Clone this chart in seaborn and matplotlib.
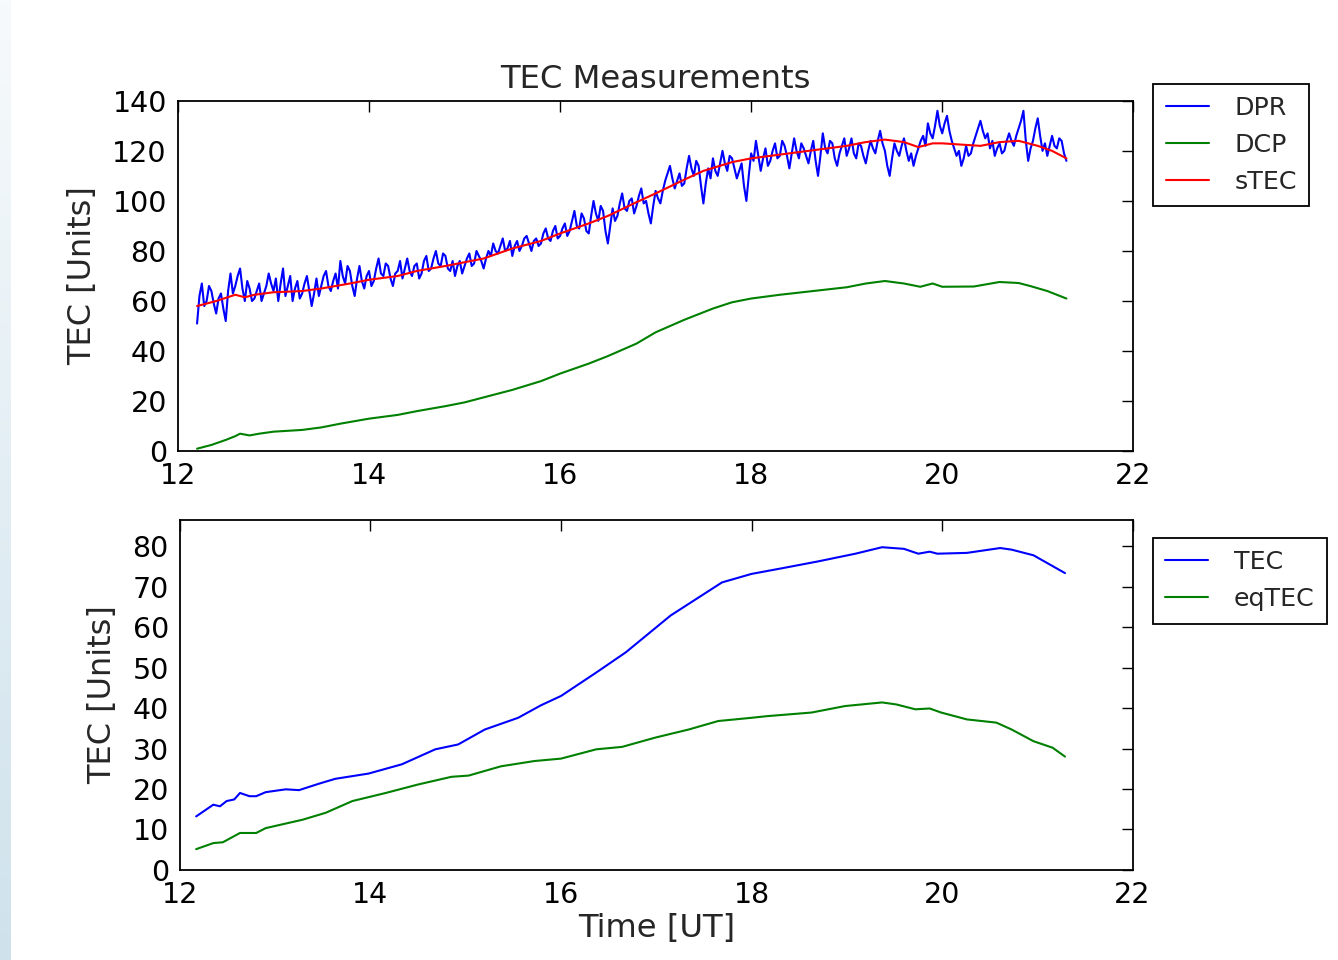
"""TEC measurements: DPR/DCP/sTEC and TEC/eqTEC against UT."""
import matplotlib

matplotlib.use("Agg")
import matplotlib.pyplot as plt
import numpy as np
import seaborn as sns

# --- top panel -------------------------------------------------------------
# DPR sampled every 0.025 h from 12.2 to 21.3 UT
dpr = [
    51, 62, 67, 58, 60, 66, 64, 59, 55, 61, 63, 57, 52, 64, 71, 63, 66, 70, 73, 65,
    60, 68, 65, 60, 61, 64, 67, 60, 63, 66, 71, 67,
    64, 69, 60, 67, 73, 62, 66, 70, 60, 65, 68, 61, 63, 67, 70, 64, 58, 63, 69, 62,
    66, 70, 72, 66, 64, 68, 71, 65, 76, 70, 67, 74, 72, 66, 62, 69, 74, 68, 65, 70,
    72, 66, 68, 73, 77, 71, 70, 75, 74, 69, 66, 71, 72, 76, 69, 73, 77, 72, 70, 74,
    75, 69, 71, 76, 78, 72, 73, 77, 80, 75, 74, 79, 78, 73, 72, 76, 70, 74, 76, 71,
    74, 77, 79, 74, 75, 80, 78, 76, 73, 77, 80, 78, 83, 80, 79, 82, 85, 80, 81, 84,
    78, 82, 84, 80, 82, 85, 86, 83, 80, 84, 85, 82, 83, 87, 89, 85, 84, 88, 90, 85,
    86, 89, 91, 86, 88, 92, 96, 90, 89, 95, 93, 88, 87, 94, 100, 95, 92, 98, 96, 88,
    83, 90, 97, 92, 94, 99, 103, 97, 96, 100, 101, 95, 98, 102, 105, 99, 100, 95, 91, 98,
    104, 101, 99, 104, 108, 111, 114, 109, 105, 108, 111, 106, 107, 113, 118, 113, 110, 116, 114, 106,
    99, 107, 113, 109, 117, 112, 110, 115, 120, 115, 112, 118, 117, 113, 109, 112, 115, 106, 100, 110,
    119, 116, 124, 118, 112, 117, 121, 114, 116, 120, 123, 117, 118, 124, 122, 118, 113, 119, 125, 120,
    117, 123, 121, 118, 115, 120, 124, 116, 110, 118, 127, 121, 119, 124, 123, 117, 114, 119, 122, 125,
    118, 121, 125, 119, 117, 123, 122, 118, 115, 120, 124, 121, 119, 124, 128, 123, 120, 114, 110, 117,
    123, 120, 118, 122, 125, 120, 116, 119, 114, 118, 121, 124, 126, 122, 131, 127, 125, 130, 136, 130,
    127, 131, 134, 128, 124, 121, 118, 120, 114, 117, 122, 118, 119, 123, 126, 129, 132, 128, 125, 127,
    121, 124, 118, 121, 123, 119, 120, 124, 127, 124, 122, 126, 129, 132, 136, 124, 116, 121, 124, 129,
    133, 126, 120, 123, 118, 122, 126, 122, 121, 125, 124, 119, 116,
]
dpr_time = np.linspace(12.2, 21.3, len(dpr))

stec_time = [12.2, 12.4, 12.6, 12.7, 12.8, 13.0, 13.3, 13.5, 13.8, 14.0, 14.3, 14.5,
             14.8, 15.0, 15.2, 15.5, 15.8, 16.0, 16.3, 16.5, 16.8, 17.0, 17.3, 17.5,
             17.8, 18.0, 18.3, 18.6, 19.0, 19.2, 19.4, 19.6, 19.75, 19.9, 20.0, 20.2,
             20.4, 20.6, 20.8, 21.0, 21.15, 21.3]
stec = [58, 60, 62.5, 61.5, 62.5, 63.5, 64, 65, 67, 68.5, 70, 72,
        74, 75.5, 77, 81, 84, 87, 91, 94, 99.5, 103, 108.5, 112,
        115.5, 117, 118.5, 120, 122, 123.5, 124.5, 123.5, 121.5, 123, 123, 122.5,
        122, 123.5, 124, 122, 120, 117]

dcp_time = [12.2, 12.35, 12.5, 12.6, 12.65, 12.75, 12.85, 13.0, 13.3, 13.5, 13.7, 14.0,
            14.3, 14.5, 14.8, 15.0, 15.3, 15.5, 15.8, 16.0, 16.3, 16.5, 16.8, 17.0,
            17.3, 17.6, 17.8, 18.0, 18.3, 18.65, 19.0, 19.2, 19.4, 19.6, 19.77, 19.9,
            20.0, 20.33, 20.6, 20.8, 20.92, 21.1, 21.3]
dcp = [1, 2.5, 4.5, 6, 7, 6.3, 7, 7.8, 8.5, 9.5, 11, 13,
       14.5, 16, 18, 19.5, 22.5, 24.5, 28, 31, 35, 38, 43, 47.5,
       52.5, 57, 59.5, 61, 62.5, 64, 65.5, 67, 68, 67, 65.7, 67,
       65.7, 65.8, 67.6, 67.2, 66, 64, 61]

# --- bottom panel ----------------------------------------------------------
tec_time = [12.17, 12.35, 12.42, 12.49, 12.57, 12.63, 12.73, 12.8, 12.9, 13.11, 13.25,
            13.46, 13.63, 13.98, 14.33, 14.68, 14.92, 15.2, 15.55, 15.79, 16.0, 16.37,
            16.68, 17.15, 17.69, 18.0, 18.32, 18.7, 19.09, 19.37, 19.6, 19.75, 19.87,
            19.95, 20.26, 20.61, 20.73, 20.96, 21.29]
tec = [13.2, 16.1, 15.7, 17, 17.4, 19, 18.2, 18.2, 19.2, 19.9, 19.7,
       21.3, 22.5, 23.8, 26.1, 29.8, 31, 34.7, 37.6, 40.7, 43, 48.8,
       53.8, 62.9, 71.1, 73.2, 74.6, 76.3, 78.2, 79.8, 79.4, 78.2, 78.7,
       78.2, 78.4, 79.6, 79.2, 77.8, 73.4]

eqtec_time = [12.17, 12.35, 12.45, 12.63, 12.8, 12.9, 13.29, 13.53, 13.81, 14.16, 14.5,
              14.85, 15.03, 15.37, 15.72, 16.0, 16.37, 16.64, 16.99, 17.34, 17.65, 18.0,
              18.16, 18.63, 18.98, 19.37, 19.52, 19.72, 19.87, 19.99, 20.26, 20.57, 20.73,
              20.96, 21.16, 21.29]
eqtec = [5.1, 6.6, 6.8, 9.1, 9.1, 10.3, 12.4, 14.1, 17, 19, 21.1,
         23, 23.3, 25.6, 26.9, 27.5, 29.8, 30.4, 32.7, 34.7, 36.8, 37.6,
         38, 38.9, 40.5, 41.4, 40.9, 39.7, 39.9, 38.9, 37.2, 36.4, 34.7,
         31.8, 30.2, 28]

top_yticks = [0, 20, 40, 60, 80, 100, 120, 140]
bot_yticks = [0, 10, 20, 30, 40, 50, 60, 70, 80]
xticks = [12, 14, 16, 18, 20, 22]

sns.set_style("white")
plt.rcParams["font.family"] = ["DejaVu Sans"]

fig = plt.figure(figsize=(13.38, 9.6), dpi=100)

# faint screenshot border on the left edge
edge = fig.add_axes([0, 0, 0.008, 1])
edge.imshow(np.linspace(0, 1, 256).reshape(-1, 1), aspect="auto",
            cmap=matplotlib.colors.LinearSegmentedColormap.from_list(
                "edge", ["#f7fafc", "#cfe2ec"]))
edge.axis("off")

ax1 = fig.add_axes([0.133, 0.530, 0.714, 0.365])
ax2 = fig.add_axes([0.1345, 0.094, 0.712, 0.3646])

line_kw = dict(estimator=None, sort=False, linewidth=1.5)
sns.lineplot(x=dpr_time, y=dpr, ax=ax1, color="#0000ff", label="DPR", **line_kw)
sns.lineplot(x=dcp_time, y=dcp, ax=ax1, color="#008000", label="DCP", **line_kw)
sns.lineplot(x=stec_time, y=stec, ax=ax1, color="#ff0000", label="sTEC", **line_kw)

sns.lineplot(x=tec_time, y=tec, ax=ax2, color="#0000ff", label="TEC", **line_kw)
sns.lineplot(x=eqtec_time, y=eqtec, ax=ax2, color="#008000", label="eqTEC", **line_kw)

ax1.set_ylim(0, 140)
ax1.set_yticks(top_yticks)
ax2.set_ylim(0, 86.6)
ax2.set_yticks(bot_yticks)

for ax, anchor in ((ax1, (1.021, 1.049)), (ax2, (1.021, 0.949))):
    ax.set_xlim(12, 22)
    ax.set_xticks(xticks)
    ax.tick_params(direction="in", top=True, right=True, length=8, width=1,
                   labelsize=20.5, pad=8, colors="black")
    for sp in ax.spines.values():
        sp.set_visible(True)
        sp.set_color("black")
        sp.set_linewidth(1.3)
    ax.set_ylabel("TEC [Units]", fontsize=23, labelpad=10.5)
    ax.legend(loc="upper left", bbox_to_anchor=anchor, borderaxespad=0,
              frameon=True, fancybox=False, edgecolor="black", framealpha=1,
              fontsize=18.2, handlelength=1.7, handletextpad=1.0,
              borderpad=0.5, labelspacing=0.5).get_frame().set_linewidth(1.3)

ax1.set_title("TEC Measurements", fontsize=23.2, pad=9)
ax2.set_xlabel("Time [UT]", fontsize=23.2, labelpad=3)

fig.savefig("out.png", dpi=100)
